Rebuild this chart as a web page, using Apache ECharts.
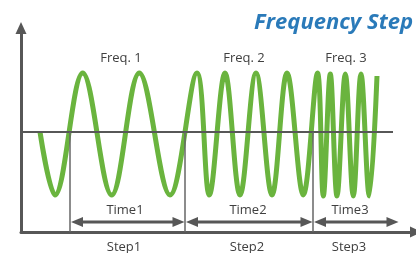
<!DOCTYPE html>
<html>
<head>
<meta charset="utf-8">
<script src="https://cdn.jsdelivr.net/npm/echarts@6/dist/echarts.min.js"></script>
<style>
html,body{margin:0;padding:0;background:#fff;}
#c{width:416px;height:253px;}
</style>
</head>
<body>
<div id="c"></div>
<script>
// ---- data (time axis units, amplitude units) ----
const titleText = 'Frequency Step';
// wave: start point, then alternating troughs / peaks, then end point
const waveX = [40, 55, 82.7, 111.7, 139.3, 170, 197, 209.3, 225, 240, 256, 272, 287, 303.3,
  317.5, 323.3, 330.3, 337, 345.3, 353.3, 361, 369.3, 377];
const waveY = [0, -63, 59, -63, 59, -63, 59, -63, 59, -63, 59, -63, 59, -63,
  59, -64, 58, -64, 58, -64, 58, -64, 56];
const stepEdges = [70, 185, 313, 399];
const labelCenters = [124, 247, 349];
const freqLabels = ['Freq. 1', 'Freq. 2', 'Freq. 3'];
const timeLabels = ['Time1', 'Time2', 'Time3'];
const stepLabels = ['Step1', 'Step2', 'Step3'];
const baselineEnd = 393;

const waveData = waveX.map((x, i) => [x, waveY[i]]);
const segData = stepLabels.map((s, i) => [stepEdges[i], stepEdges[i + 1], labelCenters[i]]);

const GRAY = '#575757';
const TXT = '#404040';
const FONT = '"Open Sans", sans-serif';

const chart = echarts.init(document.getElementById('c'), null, {renderer: 'canvas'});

function renderSeg(params, api) {
  const i = params.dataIndex;
  const x0 = api.value(0), x1 = api.value(1), xc = api.value(2);
  const pTop = api.coord([x0, 0]);
  const pBot = api.coord([x0, -100]);
  const aL = api.coord([x0, -90]);
  const aR = api.coord([x1, -90]);
  const ay = aL[1];
  const L = 12, H = 5;
  const children = [];
  if (i === 0) {
    const z0 = api.coord([21, 0]);
    const z1 = api.coord([baselineEnd, 0]);
    children.push({type: 'line', shape: {x1: z0[0], y1: z0[1], x2: z1[0], y2: z1[1]},
      style: {stroke: GRAY, lineWidth: 2.2}});
  }
  children.push({type: 'line', shape: {x1: pTop[0], y1: pTop[1], x2: pBot[0], y2: pBot[1]},
    style: {stroke: '#666', lineWidth: 1.5}});
  const lx = aL[0] + 1, rx = aR[0] - 0.5;
  children.push({type: 'line', shape: {x1: lx + L - 1, y1: ay, x2: rx - L + 1, y2: ay},
    style: {stroke: GRAY, lineWidth: 2.8}});
  children.push({type: 'polygon', shape: {points: [[lx, ay], [lx + L, ay - H], [lx + L, ay + H]]},
    style: {fill: GRAY}});
  children.push({type: 'polygon', shape: {points: [[rx, ay], [rx - L, ay - H], [rx - L, ay + H]]},
    style: {fill: GRAY}});
  const tF = api.coord([xc - 3, 74]);
  const tT = api.coord([xc + 1, -78.6]);
  const tS = api.coord([xc, -115.6]);
  const txt = (p, s) => ({type: 'text', x: p[0], y: p[1],
    style: {text: s, fill: TXT, font: '13px ' + FONT, textAlign: 'center', textVerticalAlign: 'middle'}});
  children.push(txt(tF, freqLabels[i]));
  children.push(txt(tT, timeLabels[i]));
  children.push(txt(tS, stepLabels[i]));
  return {type: 'group', children};
}

chart.setOption({
  animation: false,
  title: {
    text: titleText, right: 3, top: 12, padding: 0,
    textStyle: {color: '#2a7ab9', fontSize: 22, fontStyle: 'italic', fontWeight: 'bold', fontFamily: FONT}
  },
  grid: {left: 21, right: 0, top: 28, bottom: 21},
  xAxis: {
    type: 'value', min: 21, max: 416,
    axisLine: {onZero: false, lineStyle: {color: GRAY, width: 3}, symbol: ['none', 'triangle'], symbolSize: [11, 12]},
    axisTick: {show: false}, axisLabel: {show: false}, splitLine: {show: false}
  },
  yAxis: {
    type: 'value', min: -100, max: 104,
    axisLine: {show: true, onZero: false, lineStyle: {color: GRAY, width: 3}, symbol: ['none', 'triangle'], symbolSize: [11, 12]},
    axisTick: {show: false}, axisLabel: {show: false}, splitLine: {show: false}
  },
  series: [
    {
      type: 'line', data: waveData, smooth: 0.36, showSymbol: false, clip: false, z: 2,
      lineStyle: {color: '#6ab43e', width: 5}
    },
    {
      type: 'custom', data: segData, renderItem: renderSeg, clip: false, z: 5, silent: true
    }
  ]
});
</script>
</body>
</html>
